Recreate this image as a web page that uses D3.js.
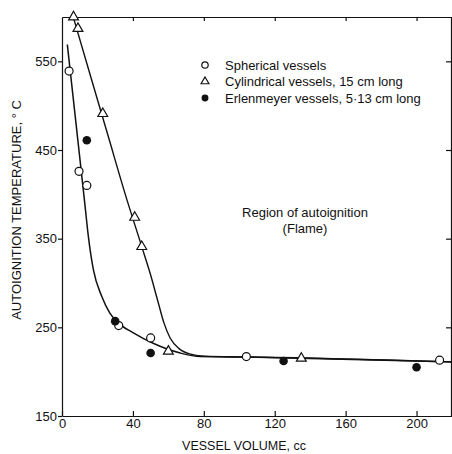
<!DOCTYPE html>
<html>
<head>
<meta charset="utf-8">
<script src="https://cdn.jsdelivr.net/npm/d3@7"></script>
<style>
  body { margin: 0; background: #fff; }
  svg { display: block; font-family: "Liberation Sans", Arial, sans-serif; }
  .axis path, .axis line { stroke: #111; stroke-width: 1.2; }
  .axis text { font-size: 13px; fill: #111; }
</style>
</head>
<body>
<svg id="chart" width="452" height="454"></svg>
<script>
// measured points (vessel volume cc, temperature C)
const sphericalVol = [4, 9.6, 14, 32, 50, 104, 213];
const sphericalTemp = [539, 426, 410, 252, 238, 217, 213];

const cylindricalVol = [6.5, 9, 23, 41, 45, 60, 135];
const cylindricalTemp = [600, 587, 491, 374, 341, 223, 215];

const erlenVol = [14, 30, 50, 125, 200];
const erlenTemp = [461, 257, 221, 212, 205];

// hand drawn fitted curves
const sphCurveVol = [3, 9, 13, 14.9, 17.7, 22.4, 27, 31.7, 40, 51.4, 66.7, 78, 104, 220];
const sphCurveTemp = [569, 460, 387, 352, 315, 285, 266, 255, 244, 232, 221, 217, 216.5, 211];

const cylCurveVol = [6.2, 16, 26, 36, 45, 50, 54, 57.5, 61, 66, 72, 80, 104, 220];
const cylCurveTemp = [601, 534, 466, 398, 341, 309, 280, 255, 238, 226, 220, 217.5, 216.5, 211];

const xTicks = [0, 40, 80, 120, 160, 200];
const yTicks = [150, 250, 350, 450, 550];

const legendItems = [
  { label: 'Spherical vessels', symbol: 'circle' },
  { label: 'Cylindrical vessels, 15 cm long', symbol: 'triangle' },
  { label: 'Erlenmeyer vessels, 5\u00b713 cm long', symbol: 'dot' }
];

const svg = d3.select('#chart');
const ink = '#111';

const margin = { left: 62, right: 0, top: 17, bottom: 38 };
const width = 452, height = 454;

const x = d3.scaleLinear().domain([0, 220]).range([margin.left, width - margin.right]);
const y = d3.scaleLinear().domain([150, 600]).range([height - margin.bottom, margin.top]);

// frame: top and right edges with inward ticks
svg.append('g').attr('class', 'axis')
  .attr('transform', `translate(0,${margin.top})`)
  .call(d3.axisTop(x).tickValues(xTicks.slice(1)).tickSize(-4).tickSizeOuter(0).tickFormat(''));

svg.append('g').attr('class', 'axis')
  .attr('transform', `translate(${width - 1},0)`)
  .call(d3.axisRight(y).tickValues(yTicks.slice(1)).tickSize(-5).tickSizeOuter(0).tickFormat(''));

// bottom axis, ticks point up
svg.append('g').attr('class', 'axis')
  .attr('transform', `translate(0,${y(150)})`)
  .call(d3.axisBottom(x).tickValues(xTicks).tickSize(-5).tickSizeOuter(0).tickPadding(3));

// left axis, ticks point out
svg.append('g').attr('class', 'axis')
  .attr('transform', `translate(${margin.left},0)`)
  .call(d3.axisLeft(y).tickValues(yTicks).tickSize(4).tickSizeOuter(0).tickPadding(1));

// axis titles
svg.append('text')
  .attr('x', 244).attr('y', 450)
  .attr('text-anchor', 'middle')
  .style('font-size', '12.5px').attr('fill', ink)
  .text('VESSEL VOLUME, cc');

svg.append('text')
  .attr('transform', 'translate(21,210) rotate(-90)')
  .attr('text-anchor', 'middle')
  .style('font-size', '13px').attr('fill', ink)
  .text('AUTOIGNITION TEMPERATURE, \u00b0 C');

// curves
const line = d3.line()
  .x(d => x(d[0]))
  .y(d => y(d[1]))
  .curve(d3.curveMonotoneX);

svg.append('path')
  .datum(d3.zip(sphCurveVol, sphCurveTemp))
  .attr('d', line)
  .attr('fill', 'none').attr('stroke', ink).attr('stroke-width', 1.5);

svg.append('path')
  .datum(d3.zip(cylCurveVol, cylCurveTemp))
  .attr('d', line)
  .attr('fill', 'none').attr('stroke', ink).attr('stroke-width', 1.4);

// markers
function drawMarker(g, kind, cx, cy, scale = 1) {
  if (kind === 'circle') {
    g.append('circle').attr('cx', cx).attr('cy', cy).attr('r', 4 * scale)
      .attr('fill', '#fff').attr('stroke', ink).attr('stroke-width', 1.2);
  } else if (kind === 'triangle') {
    g.append('path').attr('d', d3.symbol().type(d3.symbolTriangle).size(42 * scale * scale)())
      .attr('transform', `translate(${cx},${cy})`)
      .attr('fill', '#fff').attr('stroke', ink).attr('stroke-width', 1.2);
  } else {
    g.append('circle').attr('cx', cx).attr('cy', cy).attr('r', 4.3 * scale)
      .attr('fill', ink);
  }
}

const marks = svg.append('g');
d3.zip(sphericalVol, sphericalTemp).forEach(d => drawMarker(marks, 'circle', x(d[0]), y(d[1])));
d3.zip(cylindricalVol, cylindricalTemp).forEach(d => drawMarker(marks, 'triangle', x(d[0]), y(d[1])));
d3.zip(erlenVol, erlenTemp).forEach(d => drawMarker(marks, 'dot', x(d[0]), y(d[1])));

// legend
const legend = svg.append('g');
legendItems.forEach((item, i) => {
  const ly = 65 + i * 16.5;
  drawMarker(legend, item.symbol, 205, ly, 0.8);
  legend.append('text')
    .attr('x', 225).attr('y', ly + 4.5)
    .style('font-size', '13px').attr('fill', ink)
    .text(item.label);
});

// region annotation
svg.append('text')
  .attr('x', 305).attr('y', 217)
  .attr('text-anchor', 'middle')
  .style('font-size', '13px').attr('fill', ink)
  .text('Region of autoignition');
svg.append('text')
  .attr('x', 305).attr('y', 233)
  .attr('text-anchor', 'middle')
  .style('font-size', '13px').attr('fill', ink)
  .text('(Flame)');
</script>
</body>
</html>
